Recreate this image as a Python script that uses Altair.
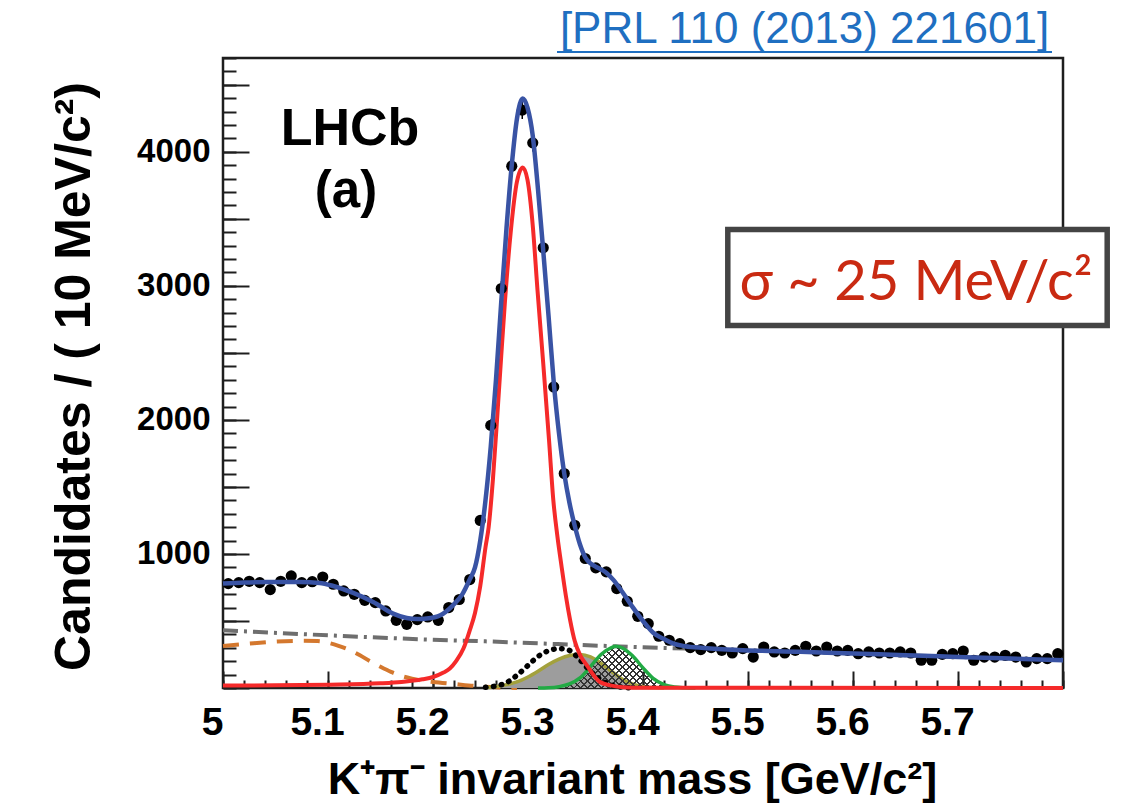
import altair as alt
import pandas as pd

# ---------------- histogram: K+ pi- candidates in 10 MeV bins, 5.0 - 5.8 GeV ----------------
BIN_LO, BIN_W = 5.0, 0.01
counts = [779, 786, 796, 786, 734, 796, 836, 786, 793, 828,
          774, 724, 699, 654, 637, 575, 505, 475, 510, 530,
          505, 600, 660, 809, 1250, 1959, 2980, 3893, 4311, 4067,
          3284, 2246, 1600, 1214, 966, 896, 866, 742, 647, 535,
          480, 386, 356, 331, 301, 286, 301, 281, 261, 294,
          231, 306, 269, 261, 281, 311, 276, 306, 276, 281,
          256, 269, 261, 261, 269, 261, 207, 207, 251, 256,
          276, 207, 231, 231, 244, 231, 194, 219, 219, 256]
bin_centre = [round(BIN_LO + BIN_W * (i + 0.5), 3) for i in range(len(counts))]

# ---------------- fit components (mass in GeV, candidates per bin) ----------------
total_m = [5.000, 5.020, 5.042, 5.073, 5.092, 5.105, 5.124, 5.143, 5.162, 5.175,
           5.185, 5.194, 5.207, 5.219, 5.228, 5.235, 5.240, 5.245, 5.250, 5.255,
           5.260, 5.265, 5.270, 5.275, 5.280, 5.2855, 5.290, 5.295, 5.300, 5.305,
           5.310, 5.315, 5.320, 5.325, 5.330, 5.335, 5.340, 5.345, 5.350, 5.355,
           5.360, 5.365, 5.372, 5.380, 5.390, 5.400, 5.410, 5.420, 5.429, 5.440,
           5.458, 5.490, 5.550, 5.600, 5.650, 5.700, 5.750, 5.800]
total_n = [779, 787, 790, 791, 784, 761, 709, 642, 555, 522,
           514, 518, 543, 617, 700, 810, 900, 1100, 1400, 1800,
           2300, 2880, 3430, 3900, 4250, 4398, 4330, 4120, 3720, 3260,
           2780, 2280, 1900, 1600, 1380, 1210, 1070, 975, 930, 905,
           885, 860, 805, 720, 605, 500, 410, 365, 331, 312,
           299, 284, 270, 257, 245, 232, 220, 207]

b0_m = [5.000, 5.050, 5.100, 5.150, 5.170, 5.190, 5.200, 5.210, 5.216, 5.222,
        5.229, 5.235, 5.240, 5.245, 5.250, 5.253, 5.257, 5.2614, 5.265, 5.2685,
        5.274, 5.280, 5.2855, 5.290, 5.295, 5.2995, 5.305, 5.3105, 5.3146, 5.3185,
        5.3225, 5.3265, 5.3305, 5.335, 5.3405, 5.3466, 5.353, 5.359, 5.370, 5.381,
        5.400, 5.500, 5.800]
b0_n = [18, 20, 25, 35, 45, 65, 82, 115, 145, 200,
        294, 430, 560, 760, 1050, 1200, 1550, 2050, 2480, 2880,
        3400, 3780, 3883, 3790, 3450, 2970, 2420, 1850, 1401, 1130,
        903, 690, 510, 350, 240, 169, 95, 45, 18, 6,
        2, 1, 0]

bs_m = [5.300, 5.310, 5.320, 5.330, 5.340, 5.350, 5.360, 5.370, 5.374, 5.380,
        5.390, 5.400, 5.410, 5.420, 5.430, 5.440, 5.450]
bs_n = [0, 2, 10, 30, 75, 160, 250, 302, 311, 300,
        240, 150, 70, 25, 7, 2, 0]

comb_m = [5.0, 5.1, 5.2, 5.25, 5.3, 5.4, 5.5, 5.6, 5.7, 5.8]
comb_n = [431, 393, 360, 348, 333, 304, 282, 257, 232, 207]

prc_m = [5.000, 5.025, 5.050, 5.075, 5.090, 5.100, 5.110, 5.120, 5.130, 5.140,
         5.150, 5.160, 5.170, 5.180, 5.190, 5.200, 5.220, 5.240, 5.260, 5.280]
prc_n = [313, 331, 346, 352, 350, 338, 315, 285, 246, 200,
         158, 120, 90, 70, 55, 45, 30, 15, 5, 0]

pipi_m = [5.250, 5.260, 5.270, 5.280, 5.290, 5.300, 5.310, 5.320, 5.330, 5.340,
          5.350, 5.360, 5.370, 5.380, 5.390]
pipi_n = [5, 15, 40, 95, 165, 235, 278, 294, 280, 210,
          125, 60, 22, 6, 1]

kk_m = [5.250, 5.260, 5.270, 5.280, 5.290, 5.300, 5.310, 5.320, 5.330, 5.340,
        5.350, 5.360, 5.370, 5.380, 5.390, 5.400, 5.410, 5.420]
kk_n = [3, 10, 25, 45, 80, 125, 175, 215, 242, 250,
        232, 185, 125, 68, 30, 10, 3, 0]

# ---------------- axes ----------------
x_labels = [5.0, 5.1, 5.2, 5.3, 5.4, 5.5, 5.6, 5.7]
x_major = [5.0, 5.1, 5.2, 5.3, 5.4, 5.5, 5.6, 5.7, 5.8]
x_minor = [round(5.0 + 0.02 * k, 2) for k in range(41)]
y_labels = [1000, 2000, 3000, 4000]
y_major = [0, 500, 1000, 1500, 2000, 2500, 3000, 3500, 4000, 4500]
y_minor = list(range(0, 4701, 100))

W, H = 840, 630
BOLD = "Liberation Sans, Arial, sans-serif"
FRAME = "#1e1e1e"

xs = alt.Scale(domain=[5.0, 5.8], nice=False, zero=False)
ys = alt.Scale(domain=[0, 4700], nice=False, zero=False)

ax_x_lab = alt.Axis(orient="bottom", values=x_labels, ticks=False, domain=False, grid=False,
                    labelExpr="datum.value == 5 ? '5' : format(datum.value, '.1f')",
                    labelFont=BOLD, labelFontWeight="bold", labelFontSize=39, labelColor="black",
                    labelPadding=15, labelOffset=-11, labelFlush=False, labelOverlap=False,
                    title="K⁺π⁻ invariant mass [GeV/c²]", titleFont=BOLD, titleFontWeight="bold",
                    titleFontSize=45, titleColor="black", titleX=409, titleY=105,
                    titleAlign="center", titleBaseline="alphabetic", titleAngle=0)
ax_x_major = alt.Axis(orient="top", offset=-H, values=x_major, tickSize=17, tickWidth=2,
                      tickColor=FRAME, labels=False, domain=False, grid=False, title=None)
ax_x_minor = alt.Axis(orient="top", offset=-H, values=x_minor, tickSize=8, tickWidth=2,
                      tickColor=FRAME, labels=False, domain=False, grid=False, title=None)
ax_y_lab = alt.Axis(orient="left", values=y_labels, ticks=False, domain=False, grid=False,
                    format="d",
                    labelFont=BOLD, labelFontWeight="bold", labelFontSize=33, labelColor="black",
                    labelPadding=13, labelFlush=False, labelOverlap=False,
                    title="Candidates / ( 10 MeV/c²)", titleFont=BOLD, titleFontWeight="bold",
                    titleFontSize=50, titleColor="black", titleX=-134, titleY=318,
                    titleAlign="center", titleBaseline="alphabetic", titleAngle=270)
ax_y_major = alt.Axis(orient="right", offset=-W, values=y_major, tickSize=26, tickWidth=2,
                      tickColor=FRAME, labels=False, domain=False, grid=False, title=None)
ax_y_minor = alt.Axis(orient="right", offset=-W, values=y_minor, tickSize=13, tickWidth=2,
                      tickColor=FRAME, labels=False, domain=False, grid=False, title=None)


def frame(m, n):
    return pd.DataFrame({"m": m, "n": n})


def xy(xax=None, yax=None):
    return dict(x=alt.X("m:Q", scale=xs, axis=xax), y=alt.Y("n:Q", scale=ys, axis=yax))


def hatch_stops(n_lines, frac, colour):
    clear = "rgba(0,0,0,0)"
    stops = []
    for k in range(n_lines):
        a = k / n_lines
        b = a + frac / n_lines
        stops += [alt.GradientStop(color=clear, offset=a), alt.GradientStop(color=colour, offset=a),
                  alt.GradientStop(color=colour, offset=b), alt.GradientStop(color=clear, offset=b)]
    return stops


# cross-hatch under the Bs component: two families of diagonal stripes
r = (311 / 4700 * H) / (0.15 / 0.8 * W)   # bbox height / width of the Bs area
k = 1.2
stops = hatch_stops(29, 0.26, "#333333")
hatch_a = alt.Gradient(gradient="linear", stops=stops, x1=0, y1=0, x2=k, y2=k * r)
hatch_b = alt.Gradient(gradient="linear", stops=stops, x1=0, y1=1, x2=k, y2=1 - k * r)

df_pts = pd.DataFrame({"m": bin_centre, "n": counts})

layers = [
    alt.Chart(frame(prc_m, prc_n)).mark_line(color="#d4782e", strokeWidth=4, strokeDash=[16, 11],
                                               interpolate="monotone").encode(**xy(ax_x_major, ax_y_major)),
    alt.Chart(frame(comb_m, comb_n)).mark_line(color="#6e6e6e", strokeWidth=4, strokeDash=[15, 6, 3, 6],
                                                 interpolate="monotone").encode(**xy(ax_x_lab, ax_y_lab)),
    alt.Chart(frame(kk_m, kk_n)).mark_area(color="#9d9d9d", opacity=1,
                                            interpolate="monotone").encode(**xy(ax_x_minor, ax_y_minor)),
    alt.Chart(frame(kk_m, kk_n)).mark_line(color="#a3a13c", strokeWidth=3.5,
                                            interpolate="monotone").encode(**xy()),
    alt.Chart(frame(bs_m, bs_n)).mark_area(fill=hatch_a, interpolate="monotone").encode(**xy()),
    alt.Chart(frame(bs_m, bs_n)).mark_area(fill=hatch_b, interpolate="monotone").encode(**xy()),
    alt.Chart(frame(bs_m, bs_n)).mark_line(color="#22aa44", strokeWidth=3.5,
                                            interpolate="monotone").encode(**xy()),
    alt.Chart(frame(pipi_m, pipi_n)).mark_line(color="black", strokeWidth=5.5, strokeDash=[0.5, 7.5],
                                                strokeCap="round", interpolate="monotone").encode(**xy()),
    alt.Chart(frame(b0_m, b0_n)).mark_line(color="#f52a2a", strokeWidth=4,
                                            interpolate="monotone").encode(**xy()),
    alt.Chart(df_pts).transform_calculate(lo="datum.n - sqrt(datum.n)", hi="datum.n + sqrt(datum.n)")
    .mark_rule(color="black", strokeWidth=1.5)
    .encode(x=alt.X("m:Q", scale=xs, axis=None), y=alt.Y("lo:Q", scale=ys, axis=None), y2="hi:Q"),
    alt.Chart(df_pts).mark_circle(color="black", size=125, opacity=1).encode(**xy()),
    alt.Chart(frame(total_m, total_n)).mark_line(color="#3953a4", strokeWidth=4.5,
                                                  interpolate="monotone").encode(**xy()),
]

one = pd.DataFrame({"k": [0]})


def label(text, x, y, **kw):
    return alt.Chart(one).mark_text(text=text, **kw).encode(x=alt.value(x), y=alt.value(y))


annotations = [
    label("LHCb", 127, 87, font=BOLD, fontWeight="bold", fontSize=52, align="center",
          baseline="alphabetic", color="black"),
    label("(a)", 123, 149, font=BOLD, fontWeight="bold", fontSize=51, align="center",
          baseline="alphabetic", color="black"),
    label("[PRL 110 (2013) 221601]", 581.5, -15, font=BOLD, fontSize=44, align="center",
          baseline="alphabetic", color="#1f6fc1"),
    alt.Chart(one).mark_rule(color="#1f6fc1", strokeWidth=2).encode(
        x=alt.value(334), x2=alt.value(829), y=alt.value(-6)),
    alt.Chart(one).mark_rect(fill="white", stroke="#444444", strokeWidth=5.5).encode(
        x=alt.value(504.8), x2=alt.value(884.2), y=alt.value(171.5), y2=alt.value(267.5)),
    label("σ ~ 25 MeV/c²", 693, 242, font="Lato, Open Sans, sans-serif", fontSize=56,
          align="center", baseline="alphabetic", color="#c92a12"),
]

chart = (
    alt.layer(*layers, *annotations)
    .resolve_axis(x="independent", y="independent")
    .properties(width=W, height=H, autosize=alt.AutoSizeParams(type="none"),
                padding={"left": 223, "top": 58, "right": 61, "bottom": 119}, background="white")
    .configure_view(stroke=FRAME, strokeWidth=2.5)
    .configure_axis(grid=False)
)

chart.save("out.html", embed_options={"renderer": "svg", "actions": False})
